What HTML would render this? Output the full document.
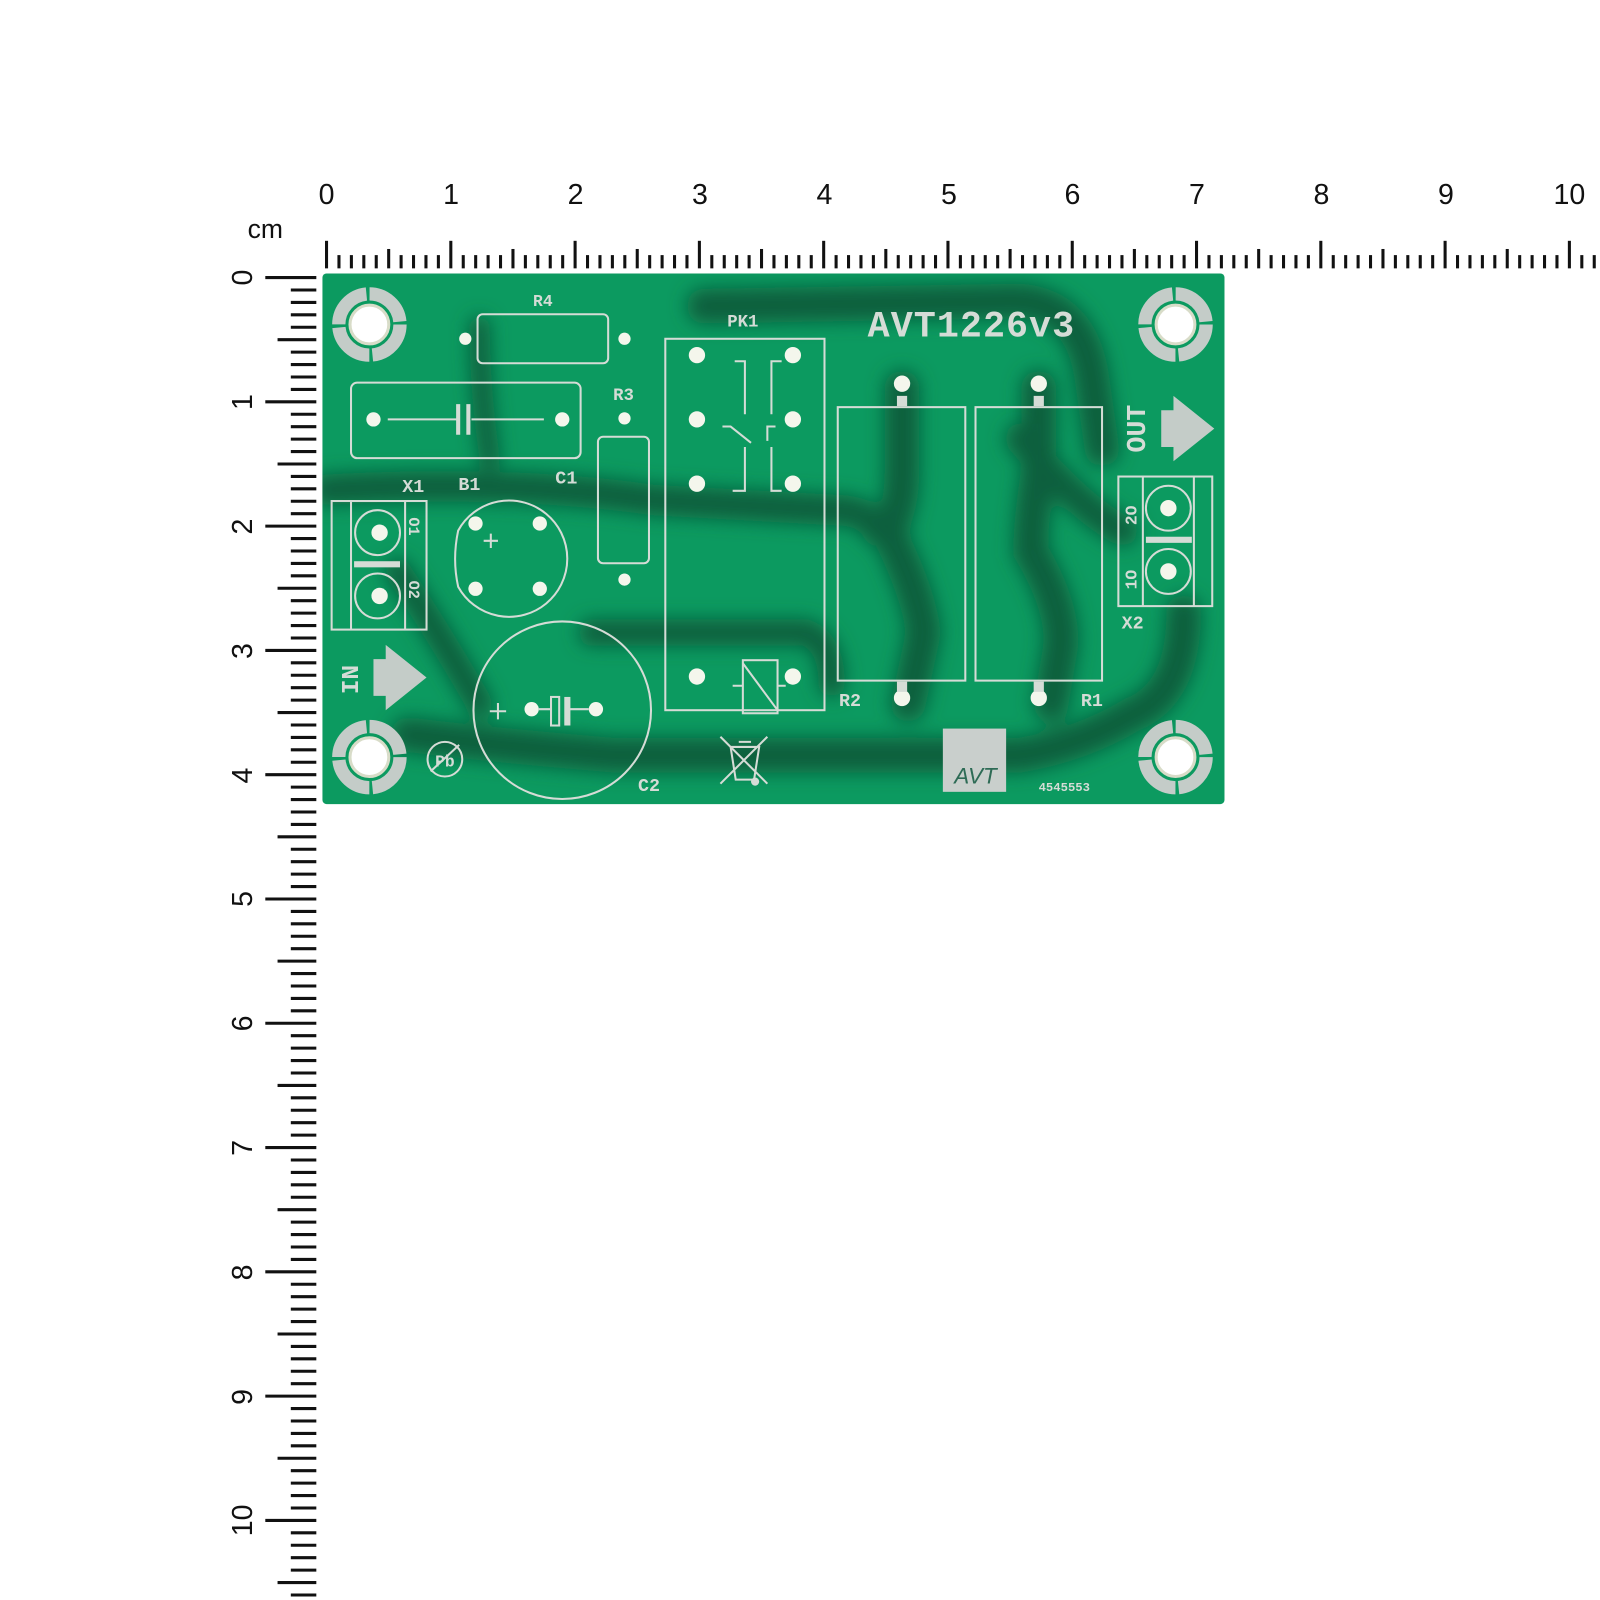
<!DOCTYPE html>
<html><head><meta charset="utf-8"><style>
html,body{margin:0;padding:0;background:#fff}
svg{display:block}
.s{fill:none;stroke:#d5dcd6;stroke-width:2}
.pad{fill:#f4f6ec}
.t{font-family:"Liberation Mono",monospace;fill:#d5dcd6;font-weight:bold}
.r{font-family:"Liberation Sans",sans-serif;fill:#111}
</style></head><body>
<svg width="1600" height="1600" viewBox="0 0 1568 1568" xmlns="http://www.w3.org/2000/svg">
<defs>
<filter id="bl" x="-10%" y="-10%" width="120%" height="120%"><feGaussianBlur stdDeviation="9"/></filter>
<clipPath id="bc"><rect x="316" y="268" width="884" height="520" rx="4"/></clipPath>
</defs>
<g id="hr" stroke="#111" stroke-width="3"></g>
<g id="vr" stroke="#111" stroke-width="3"></g>
<text class="r" x="260" y="233" font-size="26" text-anchor="middle">cm</text>
<g class="r" font-size="28" text-anchor="middle">
<text x="320" y="200">0</text><text x="442" y="200">1</text><text x="564" y="200">2</text><text x="686" y="200">3</text><text x="808" y="200">4</text><text x="930" y="200">5</text><text x="1051" y="200">6</text><text x="1173" y="200">7</text><text x="1295" y="200">8</text><text x="1417" y="200">9</text><text x="1538" y="200">10</text>
</g>
<g class="r" font-size="28" text-anchor="middle">
<text transform="translate(247,272) rotate(-90)">0</text><text transform="translate(247,394) rotate(-90)">1</text><text transform="translate(247,516) rotate(-90)">2</text><text transform="translate(247,638) rotate(-90)">3</text><text transform="translate(247,760) rotate(-90)">4</text><text transform="translate(247,881) rotate(-90)">5</text><text transform="translate(247,1003) rotate(-90)">6</text><text transform="translate(247,1125) rotate(-90)">7</text><text transform="translate(247,1247) rotate(-90)">8</text><text transform="translate(247,1369) rotate(-90)">9</text><text transform="translate(247,1490) rotate(-90)">10</text>
</g>

<rect x="316" y="268" width="884" height="520" rx="4" fill="#0c9a60"/>
<g clip-path="url(#bc)" filter="url(#bl)" fill="none" stroke="#095e3c" stroke-linecap="round">
<path d="M690,300 L1000,295 Q1060,300 1070,370 L1080,440" stroke-width="34"/>
<path d="M884,380 L884,460 Q884,500 870,520 Q900,580 905,620 L890,690" stroke-width="34"/>
<path d="M1018,380 L1018,460 Q1010,510 1010,540 Q1040,590 1040,630 L1030,690" stroke-width="34"/>
<path d="M320,480 Q500,470 640,490 L820,500 Q850,500 860,520" stroke-width="30"/>
<path d="M580,620 L790,620 Q815,630 815,670" stroke-width="26"/>
<path d="M1160,600 Q1160,680 1110,700 Q1060,730 1000,740 L600,740 Q480,730 400,720" stroke-width="34"/>
<path d="M390,560 Q430,620 470,690" stroke-width="26"/>
<path d="M1000,430 Q1060,500 1100,520" stroke-width="30"/>
<path d="M470,320 Q470,380 480,450" stroke-width="20"/>
</g>

<g id="holes"></g>

<text class="t" x="532" y="300" font-size="16" text-anchor="middle">R4</text>
<rect class="s" x="468" y="308" width="128" height="48" rx="5"/>
<circle class="pad" cx="456" cy="332" r="6"/><circle class="pad" cx="612" cy="332" r="6"/>
<rect class="s" x="344" y="375" width="225" height="74" rx="6"/>
<circle class="pad" cx="366" cy="411" r="7"/><circle class="pad" cx="551" cy="411" r="7"/>
<path class="s" d="M380,411H448M462,411H533"/>
<path d="M449,396V426M459,396V426" stroke="#d5dcd6" stroke-width="4"/>
<text class="t" x="555" y="474" font-size="18" text-anchor="middle">C1</text>
<text class="t" x="611" y="392" font-size="17" text-anchor="middle">R3</text>
<circle class="pad" cx="612" cy="410" r="6"/><circle class="pad" cx="612" cy="568" r="6"/>
<rect class="s" x="586" y="428" width="50" height="124" rx="5"/>
<text class="t" x="728" y="320" font-size="17" text-anchor="middle">PK1</text>
<rect class="s" x="652" y="332" width="156" height="364"/>
<g class="pad"><circle cx="683" cy="348" r="8"/><circle cx="777" cy="348" r="8"/><circle cx="683" cy="411" r="8"/><circle cx="777" cy="411" r="8"/><circle cx="683" cy="474" r="8"/><circle cx="777" cy="474" r="8"/><circle cx="683" cy="663" r="8"/><circle cx="777" cy="663" r="8"/></g>
<path class="s" d="M720,354H730V406M756,406V354H766M708,418H716L736,434M760,418H752L752,432M730,438V481H718M756,438V481H766"/>
<rect class="s" x="728" y="647" width="34" height="52"/>
<path class="s" d="M728,650L762,696M718,672H728M762,672H770"/>
<rect class="s" x="821" y="399" width="125" height="268"/>
<rect class="s" x="956" y="399" width="124" height="268"/>
<g class="pad"><circle cx="884" cy="376" r="8"/><circle cx="884" cy="684" r="8"/><circle cx="1018" cy="376" r="8"/><circle cx="1018" cy="684" r="8"/></g>
<path d="M879,388h10v10h-10zM879,668h10v10h-10zM1013,388h10v10h-10zM1013,668h10v10h-10z" fill="#d5dcd6"/>
<text class="t" x="833" y="692" font-size="18" text-anchor="middle">R2</text>
<text class="t" x="1070" y="692" font-size="18" text-anchor="middle">R1</text>
<text class="t" x="952" y="330" font-size="36" text-anchor="middle" letter-spacing="1">AVT1226v3</text>
<text class="t" transform="translate(1122,420) rotate(-90)" font-size="26" text-anchor="middle">OUT</text>
<path d="M1138,402H1150V388L1190,420L1150,452V438H1138Z" fill="#c4ccc8"/>
<rect class="s" x="1096" y="467" width="92" height="127"/>
<path class="s" d="M1120,467V594M1170,467V594"/>
<circle class="s" cx="1145" cy="498" r="22"/><circle class="s" cx="1145" cy="560" r="22"/>
<rect x="1123" y="526" width="45" height="6" fill="#d5dcd6"/>
<circle class="pad" cx="1145" cy="498" r="8"/><circle class="pad" cx="1145" cy="560" r="8"/>
<text class="t" transform="translate(1114,505) rotate(-90)" font-size="16" text-anchor="middle">2O</text>
<text class="t" transform="translate(1114,568) rotate(-90)" font-size="16" text-anchor="middle">1O</text>
<text class="t" x="1110" y="616" font-size="18" text-anchor="middle">X2</text>
<text class="t" x="405" y="482" font-size="18" text-anchor="middle">X1</text>
<text class="t" x="460" y="480" font-size="18" text-anchor="middle">B1</text>
<rect class="s" x="325" y="491" width="93" height="126"/>
<path class="s" d="M344,491V617M397,491V617"/>
<circle class="s" cx="370" cy="522" r="22"/><circle class="s" cx="370" cy="584" r="22"/>
<rect x="347" y="550" width="45" height="6" fill="#d5dcd6"/>
<circle class="pad" cx="372" cy="522" r="8"/><circle class="pad" cx="372" cy="584" r="8"/>
<text class="t" transform="translate(401,516) rotate(90)" font-size="15" text-anchor="middle">O1</text>
<text class="t" transform="translate(401,578) rotate(90)" font-size="15" text-anchor="middle">O2</text>
<path class="s" d="M449,520A57,57 0 1 1 449,575Q443,548 449,520Z"/>
<g class="pad"><circle cx="466" cy="513" r="7"/><circle cx="529" cy="513" r="7"/><circle cx="466" cy="577" r="7"/><circle cx="529" cy="577" r="7"/></g>
<path class="s" d="M474,530H488M481,523V537"/>
<circle class="s" cx="551" cy="696" r="87"/>
<circle class="pad" cx="521" cy="695" r="7"/><circle class="pad" cx="584" cy="695" r="7"/>
<path class="s" d="M480,697H496M488,689V705M528,695H540M556,695H577"/>
<rect class="s" x="540" y="683" width="8" height="28"/>
<rect x="553" y="683" width="6" height="28" fill="#d5dcd6"/>
<text class="t" x="636" y="775" font-size="18" text-anchor="middle">C2</text>
<text class="t" transform="translate(351,666) rotate(-90)" font-size="24" text-anchor="middle">IN</text>
<path d="M366,646H378V632L418,664L378,696V682H366Z" fill="#c4ccc8"/>
<circle class="s" cx="436" cy="744" r="17"/>
<text class="t" x="436" y="751" font-size="16" text-anchor="middle">Pb</text>
<path class="s" d="M422,756L450,730"/>
<path class="s" d="M716,732H744L739,764H721ZM724,727H736M706,722L752,768M752,722L706,768"/>
<circle cx="740" cy="766" r="4" fill="#d5dcd6"/>
<rect x="924" y="714" width="62" height="62" fill="#c9cfcc"/>
<text x="956" y="768" font-family="Liberation Sans,sans-serif" font-style="italic" font-size="22" fill="#2d6b55" text-anchor="middle">AVT</text>
<text class="t" x="1043" y="775" font-size="12" text-anchor="middle">4545553</text>
</svg>
<script>
(function(){
var ns="http://www.w3.org/2000/svg";
function L(g,x1,y1,x2,y2){var l=document.createElementNS(ns,"line");l.setAttribute("x1",x1);l.setAttribute("y1",y1);l.setAttribute("x2",x2);l.setAttribute("y2",y2);g.appendChild(l);}
var hr=document.getElementById("hr"),vr=document.getElementById("vr");
for(var i=0;i<=102;i++){var x=320+i*12.18;var top=i%10==0?236:(i%5==0?244:250);L(hr,x,top,x,263);}
for(var i=0;i<=106;i++){var y=272+i*12.18;var l=i%10==0?260:(i%5==0?272:285);L(vr,l,y,310,y);}
var h=document.getElementById("holes");
[[362,318],[1152,318],[362,742],[1152,742]].forEach(function(p){
 var c=document.createElementNS(ns,"circle");c.setAttribute("cx",p[0]);c.setAttribute("cy",p[1]);c.setAttribute("r",30);c.setAttribute("fill","none");c.setAttribute("stroke","#c4ccc8");c.setAttribute("stroke-width",13);c.setAttribute("stroke-dasharray","44 3.1");h.appendChild(c);
 var d=document.createElementNS(ns,"circle");d.setAttribute("cx",p[0]);d.setAttribute("cy",p[1]);d.setAttribute("r",19);d.setAttribute("fill","#fff");d.setAttribute("stroke","#d8dcc8");d.setAttribute("stroke-width",3);h.appendChild(d);
});
})();
</script>
</body></html>
